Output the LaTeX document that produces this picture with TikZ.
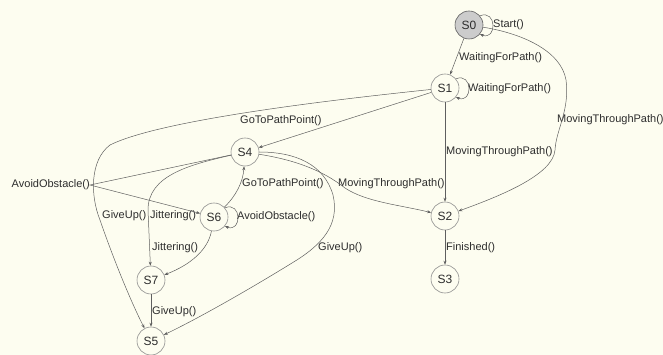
\documentclass[tikz,border=0pt]{standalone}
\usepackage{fontspec}
\setmainfont{Liberation Sans}
\usetikzlibrary{arrows.meta}
\definecolor{bg}{RGB}{253,253,240}
\definecolor{ln}{RGB}{95,95,95}
\definecolor{tx}{RGB}{45,45,45}
\definecolor{sfill}{RGB}{204,204,204}
\begin{document}
\begin{tikzpicture}[x=1pt,y=-1pt,
  state/.style={circle,draw=ln!70,fill=bg,minimum size=28pt,inner sep=0pt,
    font=\fontsize{12}{14}\selectfont,text=tx,line width=0.6pt},
  lbl/.style={anchor=west,inner sep=0pt,font=\fontsize{11}{13}\selectfont,text=tx},
  conn/.style={draw=ln,line width=0.5pt,-{Stealth[length=4pt,width=3pt]}}]
\fill[bg] (0,0) rectangle (663,355);
\useasboundingbox (0,0) rectangle (663,355);

% states
\node[state,fill=sfill,draw=ln] (S0) at (469,25) {S0};
\node[state] (S1) at (445,88) {S1};
\node[state] (S2) at (445,216) {S2};
\node[state] (S3) at (445,279) {S3};
\node[state] (S4) at (245,152) {S4};
\node[state] (S6) at (214,217) {S6};
\node[state] (S7) at (151,280) {S7};
\node[state] (S5) at (151,341) {S5};

% labels
\node[lbl] (lStart) at (493,25) {Start()};
\node[lbl] (lW1) at (459,58) {WaitingForPath()};
\node[lbl] (lW2) at (468,89) {WaitingForPath()};
\node[lbl] (lM1) at (557,120) {MovingThroughPath()};
\node[lbl] (lM2) at (446,152) {MovingThroughPath()};
\node[lbl] (lM3) at (338,184) {MovingThroughPath()};
\node[lbl] (lFin) at (446,248) {Finished()};
\node[lbl] (lG1) at (240,121) {GoToPathPoint()};
\node[lbl] (lG2) at (242,184) {GoToPathPoint()};
\node[lbl,anchor=east] (lA1) at (90,185) {AvoidObstacle()};
\node[lbl] (lA2) at (237,217) {AvoidObstacle()};
\node[lbl] (lU1) at (102,216) {GiveUp()};
\node[lbl] (lJ1) at (150,216) {Jittering()};
\node[lbl] (lJ2) at (152,248) {Jittering()};
\node[lbl] (lU2) at (318,248) {GiveUp()};
\node[lbl] (lU3) at (152,312) {GiveUp()};

% self loops
\draw[conn] (S0.40) .. controls (497,9) and (497,41) .. (S0.-40);
\draw[conn] (S1.40) .. controls (473,72) and (473,104) .. (S1.-40);
\draw[conn] (S6.40) .. controls (242,201) and (242,233) .. (S6.-40);

% straight edges
\draw[conn] (S0) -- (S1);
\draw[conn] (S1) -- (S4);
\draw[conn] (S1) -- (S2);
\draw[conn] (S2) -- (S3);
\draw[conn] (S7) -- (S5);

% curved edges
\draw[conn] (S0) .. controls (520,33) and (561,50) .. (566,80)
  .. controls (570,110) and (556,130) .. (555,150)
  .. controls (553,175) and (500,196) .. (S2);
\draw[conn] (S1) .. controls (330,100) and (160,120) .. (110,145)
  .. controls (90,160) and (90,195) .. (100,220)
  .. controls (112,255) and (130,300) .. (S5);
\draw[conn] (S4) -- (lA1.east) -- (S6);
\draw[conn] (S4) .. controls (188,165) and (148,176) .. (148,210) -- (S7);
\draw[conn] (S6) .. controls (236,196) and (243,182) .. (S4);
\draw[conn] (S6) .. controls (208,250) and (190,265) .. (S7);
\draw[conn] (S4) .. controls (295,152) and (324,164) .. (333,195)
  .. controls (340,225) and (322,245) .. (292,263)
  .. controls (245,292) and (195,320) .. (S5);
\draw[conn] (S4) .. controls (295,160) and (322,170) .. (345,188)
  .. controls (366,202) and (400,205) .. (S2);
\end{tikzpicture}
\end{document}
